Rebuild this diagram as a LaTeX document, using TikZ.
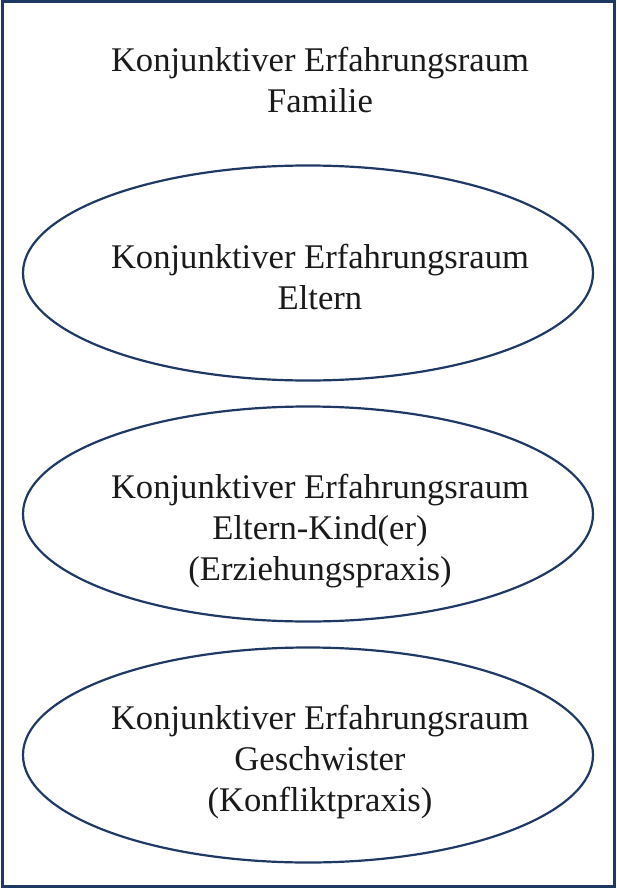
\documentclass[tikz,border=0pt]{standalone}
\usepackage{fontspec}
\setmainfont{Liberation Serif}
\usetikzlibrary{shapes.geometric}
\definecolor{navy}{HTML}{1F3864}
\definecolor{txt}{HTML}{1A1A1A}
\begin{document}
\begin{tikzpicture}[x=1pt,y=-1pt,
  oval/.style={draw=navy,line width=2.2pt,ellipse,minimum width=570pt,minimum height=215pt,inner sep=0pt},
  lbl/.style={align=center,text=txt,font=\fontsize{34.6}{41}\selectfont}]
\useasboundingbox (0,0) rectangle (616,888);
\node[draw=navy,line width=3pt,minimum width=612pt,minimum height=884pt,inner sep=0pt] (frame) at (308,444) {};
\node[lbl] (title) at (320,80) {Konjunktiver Erfahrungsraum\\Familie};
\node[oval] (e1) at (308,273) {};
\node[lbl] (t1) at (320,277) {Konjunktiver Erfahrungsraum\\Eltern};
\node[oval] (e2) at (308,514) {};
\node[lbl] (t2) at (320,531) {Konjunktiver Erfahrungsraum\\Eltern-Kind(er)\\(Erziehungspraxis)};
\node[oval] (e3) at (308,755) {};
\node[lbl] (t3) at (320,762) {Konjunktiver Erfahrungsraum\\Geschwister\\(Konfliktpraxis)};
\end{tikzpicture}
\end{document}
